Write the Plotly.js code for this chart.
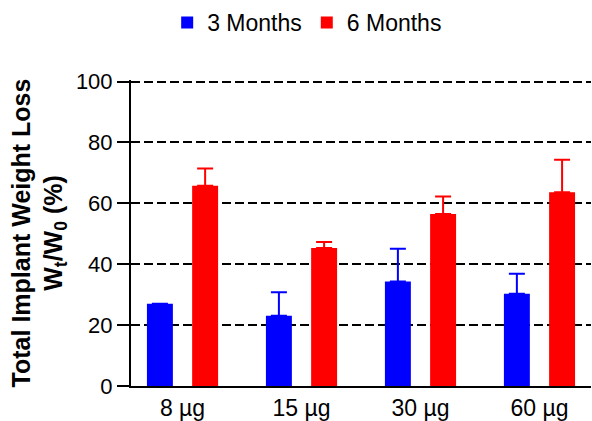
<!DOCTYPE html>
<html>
<head>
<meta charset="utf-8">
<script src="https://cdn.plot.ly/plotly-3.0.1.min.js"></script>
<style>html,body{margin:0;padding:0;background:#fff;}#chart{width:592px;height:421px;}</style>
</head>
<body>
<div id="chart"></div>
<script>
const categories = ["8 µg", "15 µg", "30 µg", "60 µg"];
const months3 = [27.0, 23.1, 34.3, 30.3];
const months3Err = [0, 7.7, 10.8, 6.6];
const months6 = [65.8, 45.3, 56.5, 63.6];
const months6Err = [5.6, 2.0, 5.7, 10.7];
const seriesNames = ["3 Months", "6 Months"];
const yTicks = [0, 20, 40, 60, 80, 100];

const FONT = "Liberation Sans, Arial, Helvetica, sans-serif";

const traces = [
  {
    type: "bar", name: seriesNames[0], x: categories, y: months3,
    marker: {color: "#0000ff"},
    error_y: {type: "data", array: months3Err, symmetric: false, arrayminus: [0,0,0,0], color: "#0000ff", thickness: 2, width: 8}
  },
  {
    type: "bar", name: seriesNames[1], x: categories, y: months6,
    marker: {color: "#ff0000"},
    error_y: {type: "data", array: months6Err, symmetric: false, arrayminus: [0,0,0,0], color: "#ff0000", thickness: 2, width: 8}
  }
];

const layout = {
  width: 592, height: 421,
  margin: {l: 131, r: 1, t: 80, b: 35, pad: 0},
  paper_bgcolor: "#fff", plot_bgcolor: "#fff",
  font: {family: FONT, color: "#000", size: 22},
  barmode: "group",
  bargap: 0.24,
  bargroupgap: 0.426,
  showlegend: true,
  legend: {
    orientation: "h", x: 0.383, xanchor: "center", y: 1.258, yanchor: "top",
    font: {family: FONT, size: 23, color: "#000"}, traceorder: "normal"
  },
  xaxis: {
    type: "category", range: [-0.433, 3.433],
    showline: true, linecolor: "#000", linewidth: 2,
    ticks: "", showgrid: false, zeroline: false,
    tickfont: {family: FONT, size: 23, color: "#000"}
  },
  yaxis: {
    range: [0, 100.5], tickvals: yTicks, ticktext: yTicks.map(String),
    showline: true, linecolor: "#000", linewidth: 2,
    ticks: "outside", ticklen: 12, tickwidth: 2, tickcolor: "#000",
    showgrid: true, gridcolor: "#000", gridwidth: 2, griddash: "9px,4px",
    zeroline: false,
    tickfont: {family: FONT, size: 22, color: "#000"},
    title: {
      text: "<b>Total Implant Weight Loss</b><br><b>W<sub>t</sub>/W<sub>0</sub> (%)</b>",
      font: {family: FONT, size: 25, color: "#000"},
      standoff: 6
    }
  }
};

Plotly.newPlot("chart", traces, layout, {displayModeBar: false, staticPlot: true});
</script>
</body>
</html>
